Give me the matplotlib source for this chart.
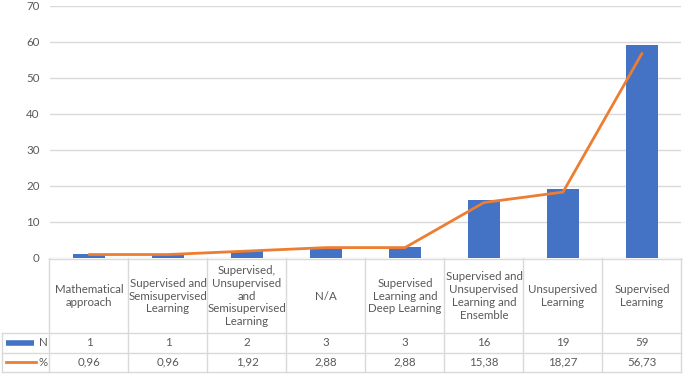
import matplotlib
matplotlib.use('Agg')
import matplotlib.pyplot as plt

# Data
categories = ['Mathematical\napproach', 'Supervised and\nSemisupervised\nLearning',
              'Supervised,\nUnsupervised\nand\nSemisupervised\nLearning', 'N/A',
              'Supervised\nLearning and\nDeep Learning',
              'Supervised and\nUnsupervised\nLearning and\nEnsemble',
              'Unsupersived\nLearning', 'Supervised\nLearning']
n_values = [1, 1, 2, 3, 3, 16, 19, 59]
pct_values = [0.96, 0.96, 1.92, 2.88, 2.88, 15.38, 18.27, 56.73]
pct_labels = ['0,96', '0,96', '1,92', '2,88', '2,88', '15,38', '18,27', '56,73']
yticks = [0, 10, 20, 30, 40, 50, 60, 70]

blue = '#4472C4'
orange = '#ED7D31'
grid = '#D9D9D9'
txt = '#595959'
fs = 8.3
plt.rcParams['font.family'] = ['Lato', 'DejaVu Sans']

W, H = 685, 375
fig = plt.figure(figsize=(W / 100, H / 100), dpi=100)

# plot area in pixel coords
left, right, top, bottom = 49.5, 681.5, 5.5, 258
ax = fig.add_axes([left / W, 1 - bottom / H, (right - left) / W, (bottom - top) / H])
x = list(range(len(categories)))
ax.bar(x, n_values, width=0.4, color=blue, zorder=2)
ax.plot(x, pct_values, color=orange, lw=2, zorder=3, solid_capstyle='round')
ax.set_xlim(-0.5, len(categories) - 0.5)
ax.set_ylim(0, 70)
ax.set_yticks(yticks)
ax.set_xticks([])
ax.grid(axis='y', color=grid, lw=1, zorder=0)
for s in ax.spines.values():
    s.set_visible(False)
ax.tick_params(axis='y', length=0, labelsize=fs, labelcolor=txt, pad=7)

# data table below the chart, in the same x scale as the plot
tab = fig.add_axes([0, 0, 1, 1 - bottom / H])
tab.set_xlim(0, W)
tab.set_ylim(H, bottom)
tab.axis('off')
colw = (right - left) / len(categories)
row_n, row_p, row_end = 333, 352.5, 372
lc = '#D9D9D9'
# horizontal lines
tab.plot([left, right], [bottom + 0.5, bottom + 0.5], color=lc, lw=1)
for yy in (row_n, row_p, row_end):
    tab.plot([2, right], [yy, yy], color=lc, lw=1)
# vertical lines
for i in range(len(categories) + 1):
    xx = left + i * colw
    tab.plot([xx, xx], [bottom, row_end], color=lc, lw=1)
tab.plot([2, 2], [row_n, row_end], color=lc, lw=1)

for i, cat in enumerate(categories):
    cx = left + (i + 0.5) * colw
    tab.text(cx, (bottom + row_n) / 2 + 0.5, cat, ha='center', va='center', fontsize=fs,
             color=txt, linespacing=1.22)
    tab.text(cx, (row_n + row_p) / 2, str(n_values[i]), ha='center', va='center',
             fontsize=fs, color=txt)
    tab.text(cx, (row_p + row_end) / 2, pct_labels[i], ha='center', va='center',
             fontsize=fs, color=txt)

# legend keys in the row headers
tab.plot([6, 34], [(row_n + row_p) / 2, (row_n + row_p) / 2], color=blue, lw=4,
         solid_capstyle='butt')
tab.plot([6, 36], [(row_p + row_end) / 2, (row_p + row_end) / 2], color=orange, lw=2)
tab.text(39, (row_n + row_p) / 2, 'N', ha='left', va='center', fontsize=fs, color=txt)
tab.text(39, (row_p + row_end) / 2, '%', ha='left', va='center', fontsize=fs, color=txt)

fig.savefig('out.png', dpi=100)
